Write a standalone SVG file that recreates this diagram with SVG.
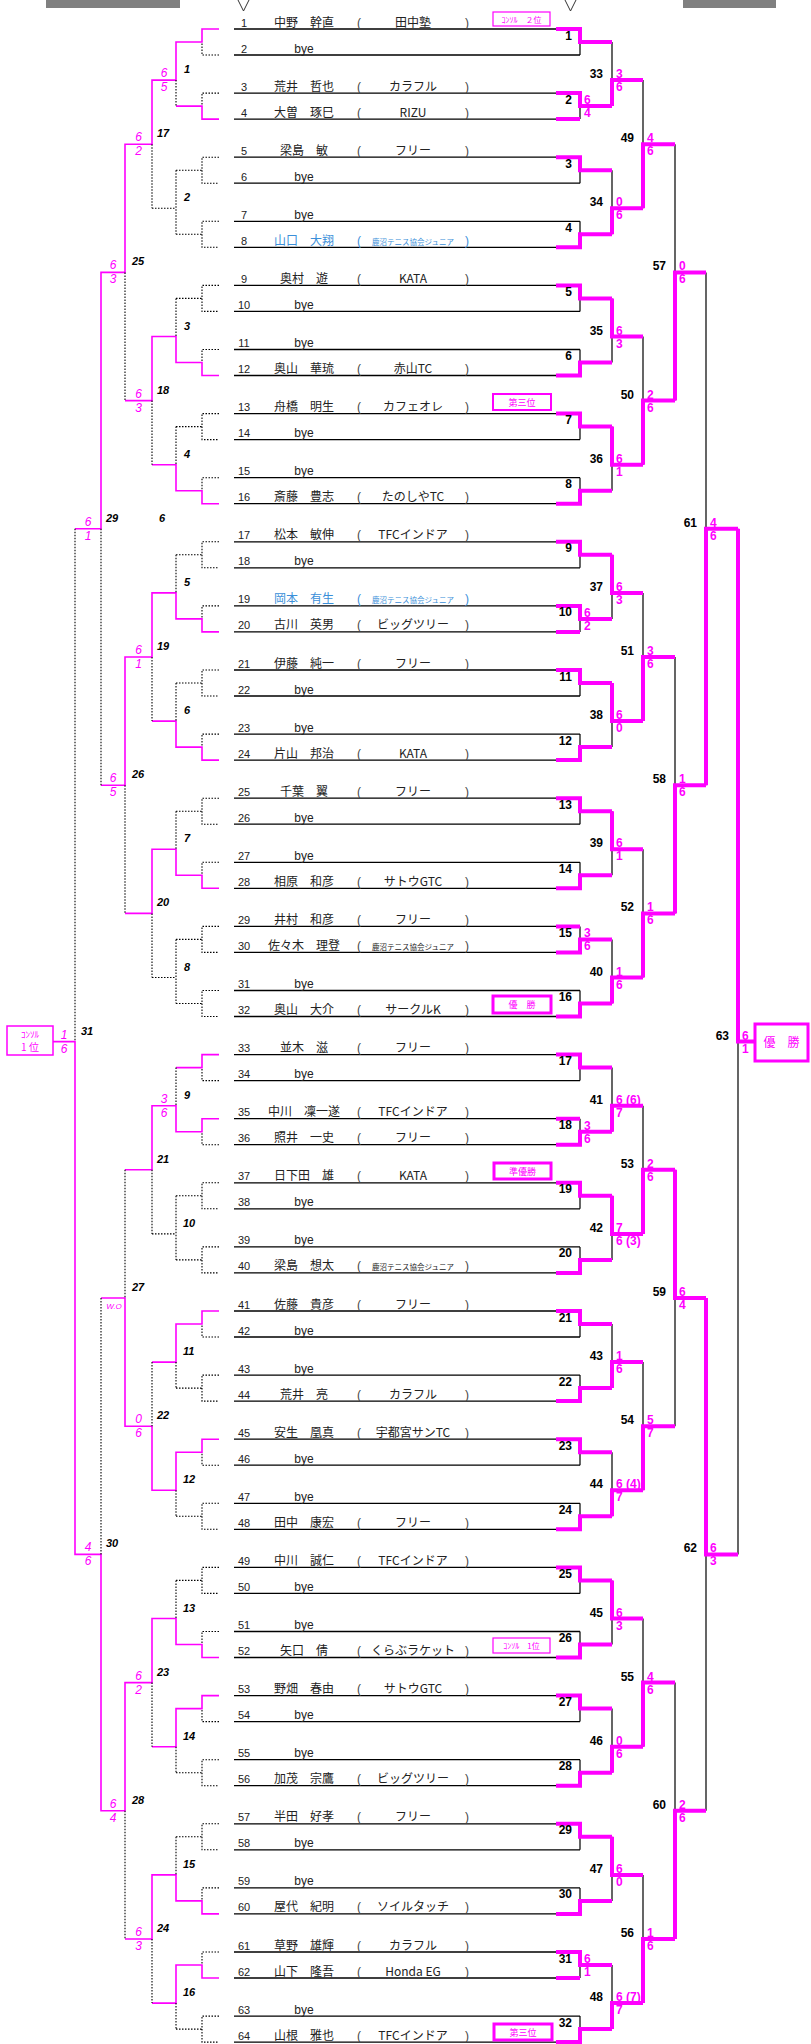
<svg xmlns="http://www.w3.org/2000/svg" width="811" height="2044" viewBox="0 0 811 2044">
<style>
.pl{stroke:#000;stroke-width:1.3;fill:none}
.bk{stroke:#000;stroke-width:1.2;fill:none}
.dt{stroke:#000;stroke-width:1.1;stroke-dasharray:1.5 1.5;fill:none}
.pk{stroke:#f0f;stroke-width:1.6;fill:none}
.tk{stroke:#f0f;stroke-width:4;fill:none;stroke-linejoin:miter}
text{font-family:"Liberation Sans",sans-serif}
.n{font-size:11px;fill:#222;text-anchor:middle}
.nm{font-family:"Noto Sans CJK JP",sans-serif;font-size:12px;fill:#222;text-anchor:middle}
.by{font-size:12px;fill:#222;text-anchor:middle}
.pr{font-size:12px;fill:#444}
.tm{font-family:"Noto Sans CJK JP",sans-serif;font-size:12px;fill:#222;text-anchor:middle}
.sm{font-size:7.5px}
.bl{fill:#3b8fd9}
.mr{font-family:"Liberation Sans Narrow","Liberation Sans",sans-serif;font-weight:bold;font-size:12px;text-anchor:end;fill:#000}
.ml{font-weight:bold;font-style:italic;font-size:11px;fill:#000}
.sr{font-family:"Liberation Sans Narrow","Liberation Sans",sans-serif;font-weight:bold;font-size:12px;fill:#f0f}
.sl{font-style:italic;font-size:12px;fill:#f0f;text-anchor:middle}
.bx{fill:none;stroke:#f0f}
.bt{font-family:"Noto Sans CJK JP",sans-serif;font-size:9px;fill:#f0f;text-anchor:middle}
</style>
<rect x="46" y="0" width="134" height="8" fill="#808080"/>
<rect x="683" y="0" width="93" height="8" fill="#808080"/>
<polyline points="238,0 243.5,11 249,0" fill="none" stroke="#333" stroke-width="1"/>
<polyline points="565,0 570.5,11 576,0" fill="none" stroke="#333" stroke-width="1"/>

<g id="connectors">
<path class="pl" d="M234,29H580M234,55H580M234,93.1H580M234,119.1H580M234,157.2H580M234,183.2H580M234,221.3H580M234,247.3H580M234,285.4H580M234,311.4H580M234,349.5H580M234,375.5H580M234,413.6H580M234,439.6H580M234,477.7H580M234,503.7H580M234,541.8H580M234,567.8H580M234,605.9H580M234,631.9H580M234,670H580M234,696H580M234,734.1H580M234,760.1H580M234,798.2H580M234,824.2H580M234,862.3H580M234,888.3H580M234,926.4H580M234,952.4H580M234,990.5H580M234,1016.5H580M234,1054.6H580M234,1080.6H580M234,1118.7H580M234,1144.7H580M234,1182.8H580M234,1208.8H580M234,1246.9H580M234,1272.9H580M234,1311H580M234,1337H580M234,1375.1H580M234,1401.1H580M234,1439.2H580M234,1465.2H580M234,1503.3H580M234,1529.3H580M234,1567.4H580M234,1593.4H580M234,1631.5H580M234,1657.5H580M234,1695.6H580M234,1721.6H580M234,1759.7H580M234,1785.7H580M234,1823.8H580M234,1849.8H580M234,1887.9H580M234,1913.9H580M234,1952H580M234,1978H580M234,2016.1H580M234,2042.1H580"/>
<path class="bk" d="M580,29V55M580,93.1V119.1M580,157.2V183.2M580,221.3V247.3M580,285.4V311.4M580,349.5V375.5M580,413.6V439.6M580,477.7V503.7M580,541.8V567.8M580,605.9V631.9M580,670V696M580,734.1V760.1M580,798.2V824.2M580,862.3V888.3M580,926.4V952.4M580,990.5V1016.5M580,1054.6V1080.6M580,1118.7V1144.7M580,1182.8V1208.8M580,1246.9V1272.9M580,1311V1337M580,1375.1V1401.1M580,1439.2V1465.2M580,1503.3V1529.3M580,1567.4V1593.4M580,1631.5V1657.5M580,1695.6V1721.6M580,1759.7V1785.7M580,1823.8V1849.8M580,1887.9V1913.9M580,1952V1978M580,2016.1V2042.1
M612,42V106.1M612,170.2V234.3M612,298.4V362.5M612,426.6V490.7M612,554.8V618.9M612,683V747.1M612,811.2V875.3M612,939.4V1003.5M612,1067.6V1131.7M612,1195.8V1259.9M612,1324V1388.1M612,1452.2V1516.3M612,1580.4V1644.5M612,1708.6V1772.7M612,1836.8V1900.9M612,1965V2029.1
M643,80.1V208.3M643,336.5V464.7M643,592.9V721.1M643,849.3V977.5M643,1105.7V1233.9M643,1362.1V1490.3M643,1618.5V1746.7M643,1874.9V2003.1
M675,144.2V400.6M675,657V913.4M675,1169.8V1426.2M675,1682.6V1939
M706,272.4V785.2M706,1298V1810.8
M738,528.8V1554.4"/>
<path class="tk" d="M556,29H580V42H612M556,93.1H580V106.1H612M556,119.1H580M556,157.2H580V170.2H612M556,247.3H580V234.3H612M556,285.4H580V298.4H612M556,375.5H580V362.5H612M556,413.6H580V426.6H612M556,503.7H580V490.7H612M556,541.8H580V554.8H612M556,605.9H580V618.9H612M556,631.9H580M556,670H580V683H612M556,760.1H580V747.1H612M556,798.2H580V811.2H612M556,888.3H580V875.3H612M556,952.4H580V939.4H612M556,926.4H580M556,1016.5H580V1003.5H612M556,1054.6H580V1067.6H612M556,1144.7H580V1131.7H612M556,1118.7H580M556,1182.8H580V1195.8H612M556,1272.9H580V1259.9H612M556,1311H580V1324H612M556,1401.1H580V1388.1H612M556,1439.2H580V1452.2H612M556,1529.3H580V1516.3H612M556,1567.4H580V1580.4H612M556,1657.5H580V1644.5H612M556,1695.6H580V1708.6H612M556,1785.7H580V1772.7H612M556,1823.8H580V1836.8H612M556,1913.9H580V1900.9H612M556,1952H580V1965H612M556,1978H580M556,2042.1H580V2029.1H612
M612,106.1V80.1H643M612,234.3V208.3H643M612,298.4V336.5H643M612,426.6V464.7H643M612,554.8V592.9H643M612,683V721.1H643M612,811.2V849.3H643M612,1003.5V977.5H643M612,1131.7V1105.7H643M612,1195.8V1233.9H643M612,1388.1V1362.1H643M612,1516.3V1490.3H643M612,1580.4V1618.5H643M612,1772.7V1746.7H643M612,1836.8V1874.9H643M612,2029.1V2003.1H643
M643,208.3V144.2H675M643,464.7V400.6H675M643,721.1V657H675M643,977.5V913.4H675M643,1233.9V1169.8H675M643,1490.3V1426.2H675M643,1746.7V1682.6H675M643,2003.1V1939H675
M675,400.6V272.4H706M675,913.4V785.2H706M675,1169.8V1298H706M675,1939V1810.8H706
M706,785.2V528.8H738M706,1298V1554.4H738
M738,528.8V1041.6H755"/>
<path class="pk" d="M219,29H202V42H176V80.1H152V144.2H125V272.4H101V528.8H75
M219,119.1H202V106.1H176
M219,375.5H202V362.5H176V336.5H152V400.6H125
M219,503.7H202V490.7H176V464.7H152
M219,631.9H202V618.9H176V592.9H152V657H125V785.2H101
M219,760.1H202V747.1H176V721.1H152
M219,888.3H202V875.3H176V849.3H152V913.4H125
M219,1054.6H202V1067.6H176
M219,1118.7H202V1131.7H176V1105.7H152V1169.8H125
M219,1311H202V1324H176V1362.1H152
M219,1439.2H202V1452.2H176V1490.3H152V1426.2H125V1298H101
M219,1657.5H202V1644.5H176V1618.5H152V1682.6H125V1810.8H101V1554.4H75V1041.6H53
M219,1695.6H202V1708.6H176V1746.7H152
M219,1913.9H202V1900.9H176V1874.9H152V1939H125
M219,1978H202V1965H176V2003.1H152"/>
<path class="dt" d="M219,55H202V42M219,93.1H202V106.1M219,157.2H202V183.2H219M176,170.2H202M219,221.3H202V247.3H219M176,234.3H202M219,285.4H202V311.4H219M176,298.4H202M219,349.5H202V362.5M219,413.6H202V439.6H219M176,426.6H202M219,477.7H202V490.7M219,541.8H202V567.8H219M176,554.8H202M219,605.9H202V618.9M219,670H202V696H219M176,683H202M219,734.1H202V747.1M219,798.2H202V824.2H219M176,811.2H202M219,862.3H202V875.3M219,926.4H202V952.4H219M176,939.4H202M219,990.5H202V1016.5H219M176,1003.5H202M219,1080.6H202V1067.6M219,1144.7H202V1131.7M219,1182.8H202V1208.8H219M176,1195.8H202M219,1246.9H202V1272.9H219M176,1259.9H202M219,1337H202V1324M219,1375.1H202V1401.1H219M176,1388.1H202M219,1465.2H202V1452.2M219,1503.3H202V1529.3H219M176,1516.3H202M219,1567.4H202V1593.4H219M176,1580.4H202M219,1631.5H202V1644.5M219,1721.6H202V1708.6M219,1759.7H202V1785.7H219M176,1772.7H202M219,1823.8H202V1849.8H219M176,1836.8H202M219,1887.9H202V1900.9M219,1952H202V1965M219,2016.1H202V2042.1H219M176,2029.1H202
M176,80.1V106.1M176,170.2V234.3M152,208.3H176M176,298.4V336.5M176,426.6V464.7M176,554.8V592.9M176,683V721.1M176,811.2V849.3M176,939.4V1003.5M152,977.5H176M176,1067.6V1105.7M176,1195.8V1259.9M152,1233.9H176M176,1362.1V1388.1M176,1490.3V1516.3M176,1580.4V1618.5M176,1746.7V1772.7M176,1836.8V1874.9M176,2003.1V2029.1
M152,144.2V208.3M152,400.6V464.7M152,657V721.1M152,913.4V977.5M152,1169.8V1233.9M152,1362.1V1426.2M152,1682.6V1746.7M152,1939V2003.1
M125,272.4V400.6M125,785.2V913.4M125,1169.8V1298M125,1810.8V1939
M101,528.8V785.2M101,1298V1554.4M75,528.8V1041.6"/>
</g>

<g id="players">
<g id="p1" transform="translate(0,26.5)"><text class="n" x="244">1</text><text class="nm" x="304">中野　幹直</text><text class="pr" x="357">(</text><text class="tm" x="413">田中塾</text><text class="pr" x="465">)</text></g>
<g id="p2" transform="translate(0,52.5)"><text class="n" x="244">2</text><text class="by" x="304">bye</text></g>
<g id="p3" transform="translate(0,90.6)"><text class="n" x="244">3</text><text class="nm" x="304">荒井　哲也</text><text class="pr" x="357">(</text><text class="tm" x="413">カラフル</text><text class="pr" x="465">)</text></g>
<g id="p4" transform="translate(0,116.6)"><text class="n" x="244">4</text><text class="nm" x="304">大曽　琢巳</text><text class="pr" x="357">(</text><text class="tm" x="413">RIZU</text><text class="pr" x="465">)</text></g>
<g id="p5" transform="translate(0,154.7)"><text class="n" x="244">5</text><text class="nm" x="304">梁島　敏</text><text class="pr" x="357">(</text><text class="tm" x="413">フリー</text><text class="pr" x="465">)</text></g>
<g id="p6" transform="translate(0,180.7)"><text class="n" x="244">6</text><text class="by" x="304">bye</text></g>
<g id="p7" transform="translate(0,218.8)"><text class="n" x="244">7</text><text class="by" x="304">bye</text></g>
<g id="p8" transform="translate(0,244.8)"><text class="n" x="244">8</text><text class="nm bl" x="304">山口　大翔</text><text class="pr bl" x="357">(</text><text class="tm sm bl" x="413">鹿沼テニス協会ジュニア</text><text class="pr bl" x="465">)</text></g>
<g id="p9" transform="translate(0,282.9)"><text class="n" x="244">9</text><text class="nm" x="304">奥村　遊</text><text class="pr" x="357">(</text><text class="tm" x="413">KATA</text><text class="pr" x="465">)</text></g>
<g id="p10" transform="translate(0,308.9)"><text class="n" x="244">10</text><text class="by" x="304">bye</text></g>
<g id="p11" transform="translate(0,347)"><text class="n" x="244">11</text><text class="by" x="304">bye</text></g>
<g id="p12" transform="translate(0,373)"><text class="n" x="244">12</text><text class="nm" x="304">奥山　華琉</text><text class="pr" x="357">(</text><text class="tm" x="413">赤山TC</text><text class="pr" x="465">)</text></g>
<g id="p13" transform="translate(0,411.1)"><text class="n" x="244">13</text><text class="nm" x="304">舟橋　明生</text><text class="pr" x="357">(</text><text class="tm" x="413">カフェオレ</text><text class="pr" x="465">)</text></g>
<g id="p14" transform="translate(0,437.1)"><text class="n" x="244">14</text><text class="by" x="304">bye</text></g>
<g id="p15" transform="translate(0,475.2)"><text class="n" x="244">15</text><text class="by" x="304">bye</text></g>
<g id="p16" transform="translate(0,501.2)"><text class="n" x="244">16</text><text class="nm" x="304">斎藤　豊志</text><text class="pr" x="357">(</text><text class="tm" x="413">たのしやTC</text><text class="pr" x="465">)</text></g>
<g id="p17" transform="translate(0,539.3)"><text class="n" x="244">17</text><text class="nm" x="304">松本　敏伸</text><text class="pr" x="357">(</text><text class="tm" x="413">TFCインドア</text><text class="pr" x="465">)</text></g>
<g id="p18" transform="translate(0,565.3)"><text class="n" x="244">18</text><text class="by" x="304">bye</text></g>
<g id="p19" transform="translate(0,603.4)"><text class="n" x="244">19</text><text class="nm bl" x="304">岡本　有生</text><text class="pr bl" x="357">(</text><text class="tm sm bl" x="413">鹿沼テニス協会ジュニア</text><text class="pr bl" x="465">)</text></g>
<g id="p20" transform="translate(0,629.4)"><text class="n" x="244">20</text><text class="nm" x="304">古川　英男</text><text class="pr" x="357">(</text><text class="tm" x="413">ビッグツリー</text><text class="pr" x="465">)</text></g>
<g id="p21" transform="translate(0,667.5)"><text class="n" x="244">21</text><text class="nm" x="304">伊藤　純一</text><text class="pr" x="357">(</text><text class="tm" x="413">フリー</text><text class="pr" x="465">)</text></g>
<g id="p22" transform="translate(0,693.5)"><text class="n" x="244">22</text><text class="by" x="304">bye</text></g>
<g id="p23" transform="translate(0,731.6)"><text class="n" x="244">23</text><text class="by" x="304">bye</text></g>
<g id="p24" transform="translate(0,757.6)"><text class="n" x="244">24</text><text class="nm" x="304">片山　邦治</text><text class="pr" x="357">(</text><text class="tm" x="413">KATA</text><text class="pr" x="465">)</text></g>
<g id="p25" transform="translate(0,795.7)"><text class="n" x="244">25</text><text class="nm" x="304">千葉　翼</text><text class="pr" x="357">(</text><text class="tm" x="413">フリー</text><text class="pr" x="465">)</text></g>
<g id="p26" transform="translate(0,821.7)"><text class="n" x="244">26</text><text class="by" x="304">bye</text></g>
<g id="p27" transform="translate(0,859.8)"><text class="n" x="244">27</text><text class="by" x="304">bye</text></g>
<g id="p28" transform="translate(0,885.8)"><text class="n" x="244">28</text><text class="nm" x="304">相原　和彦</text><text class="pr" x="357">(</text><text class="tm" x="413">サトウGTC</text><text class="pr" x="465">)</text></g>
<g id="p29" transform="translate(0,923.9)"><text class="n" x="244">29</text><text class="nm" x="304">井村　和彦</text><text class="pr" x="357">(</text><text class="tm" x="413">フリー</text><text class="pr" x="465">)</text></g>
<g id="p30" transform="translate(0,949.9)"><text class="n" x="244">30</text><text class="nm" x="304">佐々木　理登</text><text class="pr" x="357">(</text><text class="tm sm" x="413">鹿沼テニス協会ジュニア</text><text class="pr" x="465">)</text></g>
<g id="p31" transform="translate(0,988)"><text class="n" x="244">31</text><text class="by" x="304">bye</text></g>
<g id="p32" transform="translate(0,1014)"><text class="n" x="244">32</text><text class="nm" x="304">奥山　大介</text><text class="pr" x="357">(</text><text class="tm" x="413">サークルK</text><text class="pr" x="465">)</text></g>
<g id="p33" transform="translate(0,1052.1)"><text class="n" x="244">33</text><text class="nm" x="304">並木　滋</text><text class="pr" x="357">(</text><text class="tm" x="413">フリー</text><text class="pr" x="465">)</text></g>
<g id="p34" transform="translate(0,1078.1)"><text class="n" x="244">34</text><text class="by" x="304">bye</text></g>
<g id="p35" transform="translate(0,1116.2)"><text class="n" x="244">35</text><text class="nm" x="304">中川　凜一遂</text><text class="pr" x="357">(</text><text class="tm" x="413">TFCインドア</text><text class="pr" x="465">)</text></g>
<g id="p36" transform="translate(0,1142.2)"><text class="n" x="244">36</text><text class="nm" x="304">照井　一史</text><text class="pr" x="357">(</text><text class="tm" x="413">フリー</text><text class="pr" x="465">)</text></g>
<g id="p37" transform="translate(0,1180.3)"><text class="n" x="244">37</text><text class="nm" x="304">日下田　雄</text><text class="pr" x="357">(</text><text class="tm" x="413">KATA</text><text class="pr" x="465">)</text></g>
<g id="p38" transform="translate(0,1206.3)"><text class="n" x="244">38</text><text class="by" x="304">bye</text></g>
<g id="p39" transform="translate(0,1244.4)"><text class="n" x="244">39</text><text class="by" x="304">bye</text></g>
<g id="p40" transform="translate(0,1270.4)"><text class="n" x="244">40</text><text class="nm" x="304">梁島　想太</text><text class="pr" x="357">(</text><text class="tm sm" x="413">鹿沼テニス協会ジュニア</text><text class="pr" x="465">)</text></g>
<g id="p41" transform="translate(0,1308.5)"><text class="n" x="244">41</text><text class="nm" x="304">佐藤　貴彦</text><text class="pr" x="357">(</text><text class="tm" x="413">フリー</text><text class="pr" x="465">)</text></g>
<g id="p42" transform="translate(0,1334.5)"><text class="n" x="244">42</text><text class="by" x="304">bye</text></g>
<g id="p43" transform="translate(0,1372.6)"><text class="n" x="244">43</text><text class="by" x="304">bye</text></g>
<g id="p44" transform="translate(0,1398.6)"><text class="n" x="244">44</text><text class="nm" x="304">荒井　亮</text><text class="pr" x="357">(</text><text class="tm" x="413">カラフル</text><text class="pr" x="465">)</text></g>
<g id="p45" transform="translate(0,1436.7)"><text class="n" x="244">45</text><text class="nm" x="304">安生　凰真</text><text class="pr" x="357">(</text><text class="tm" x="413">宇都宮サンTC</text><text class="pr" x="465">)</text></g>
<g id="p46" transform="translate(0,1462.7)"><text class="n" x="244">46</text><text class="by" x="304">bye</text></g>
<g id="p47" transform="translate(0,1500.8)"><text class="n" x="244">47</text><text class="by" x="304">bye</text></g>
<g id="p48" transform="translate(0,1526.8)"><text class="n" x="244">48</text><text class="nm" x="304">田中　康宏</text><text class="pr" x="357">(</text><text class="tm" x="413">フリー</text><text class="pr" x="465">)</text></g>
<g id="p49" transform="translate(0,1564.9)"><text class="n" x="244">49</text><text class="nm" x="304">中川　誠仁</text><text class="pr" x="357">(</text><text class="tm" x="413">TFCインドア</text><text class="pr" x="465">)</text></g>
<g id="p50" transform="translate(0,1590.9)"><text class="n" x="244">50</text><text class="by" x="304">bye</text></g>
<g id="p51" transform="translate(0,1629)"><text class="n" x="244">51</text><text class="by" x="304">bye</text></g>
<g id="p52" transform="translate(0,1655)"><text class="n" x="244">52</text><text class="nm" x="304">矢口　倩</text><text class="pr" x="357">(</text><text class="tm" x="413">くらぶラケット</text><text class="pr" x="465">)</text></g>
<g id="p53" transform="translate(0,1693.1)"><text class="n" x="244">53</text><text class="nm" x="304">野畑　春由</text><text class="pr" x="357">(</text><text class="tm" x="413">サトウGTC</text><text class="pr" x="465">)</text></g>
<g id="p54" transform="translate(0,1719.1)"><text class="n" x="244">54</text><text class="by" x="304">bye</text></g>
<g id="p55" transform="translate(0,1757.2)"><text class="n" x="244">55</text><text class="by" x="304">bye</text></g>
<g id="p56" transform="translate(0,1783.2)"><text class="n" x="244">56</text><text class="nm" x="304">加茂　宗鷹</text><text class="pr" x="357">(</text><text class="tm" x="413">ビッグツリー</text><text class="pr" x="465">)</text></g>
<g id="p57" transform="translate(0,1821.3)"><text class="n" x="244">57</text><text class="nm" x="304">半田　好孝</text><text class="pr" x="357">(</text><text class="tm" x="413">フリー</text><text class="pr" x="465">)</text></g>
<g id="p58" transform="translate(0,1847.3)"><text class="n" x="244">58</text><text class="by" x="304">bye</text></g>
<g id="p59" transform="translate(0,1885.4)"><text class="n" x="244">59</text><text class="by" x="304">bye</text></g>
<g id="p60" transform="translate(0,1911.4)"><text class="n" x="244">60</text><text class="nm" x="304">屋代　紀明</text><text class="pr" x="357">(</text><text class="tm" x="413">ソイルタッチ</text><text class="pr" x="465">)</text></g>
<g id="p61" transform="translate(0,1949.5)"><text class="n" x="244">61</text><text class="nm" x="304">草野　雄輝</text><text class="pr" x="357">(</text><text class="tm" x="413">カラフル</text><text class="pr" x="465">)</text></g>
<g id="p62" transform="translate(0,1975.5)"><text class="n" x="244">62</text><text class="nm" x="304">山下　隆吾</text><text class="pr" x="357">(</text><text class="tm" x="413">Honda EG</text><text class="pr" x="465">)</text></g>
<g id="p63" transform="translate(0,2013.6)"><text class="n" x="244">63</text><text class="by" x="304">bye</text></g>
<g id="p64" transform="translate(0,2039.6)"><text class="n" x="244">64</text><text class="nm" x="304">山根　雅也</text><text class="pr" x="357">(</text><text class="tm" x="413">TFCインドア</text><text class="pr" x="465">)</text></g>
</g>

<g id="main-match-labels">
<text class="mr" x="572" y="39.5">1</text><text class="mr" x="572" y="103.6">2</text><text class="mr" x="572" y="167.7">3</text><text class="mr" x="572" y="231.8">4</text><text class="mr" x="572" y="295.9">5</text><text class="mr" x="572" y="360">6</text><text class="mr" x="572" y="424.1">7</text><text class="mr" x="572" y="488.2">8</text><text class="mr" x="572" y="552.3">9</text><text class="mr" x="572" y="616.4">10</text><text class="mr" x="572" y="680.5">11</text><text class="mr" x="572" y="744.6">12</text><text class="mr" x="572" y="808.7">13</text><text class="mr" x="572" y="872.8">14</text><text class="mr" x="572" y="936.9">15</text><text class="mr" x="572" y="1001">16</text><text class="mr" x="572" y="1065.1">17</text><text class="mr" x="572" y="1129.2">18</text><text class="mr" x="572" y="1193.3">19</text><text class="mr" x="572" y="1257.4">20</text><text class="mr" x="572" y="1321.5">21</text><text class="mr" x="572" y="1385.6">22</text><text class="mr" x="572" y="1449.7">23</text><text class="mr" x="572" y="1513.8">24</text><text class="mr" x="572" y="1577.9">25</text><text class="mr" x="572" y="1642">26</text><text class="mr" x="572" y="1706.1">27</text><text class="mr" x="572" y="1770.2">28</text><text class="mr" x="572" y="1834.3">29</text><text class="mr" x="572" y="1898.4">30</text><text class="mr" x="572" y="1962.5">31</text><text class="mr" x="572" y="2026.6">32</text>
<text class="mr" x="603" y="78.1">33</text><text class="mr" x="603" y="206.3">34</text><text class="mr" x="603" y="334.5">35</text><text class="mr" x="603" y="462.7">36</text><text class="mr" x="603" y="590.9">37</text><text class="mr" x="603" y="719.1">38</text><text class="mr" x="603" y="847.3">39</text><text class="mr" x="603" y="975.5">40</text><text class="mr" x="603" y="1103.7">41</text><text class="mr" x="603" y="1231.9">42</text><text class="mr" x="603" y="1360.1">43</text><text class="mr" x="603" y="1488.3">44</text><text class="mr" x="603" y="1616.5">45</text><text class="mr" x="603" y="1744.7">46</text><text class="mr" x="603" y="1872.9">47</text><text class="mr" x="603" y="2001.1">48</text>
<text class="mr" x="634" y="142.2">49</text><text class="mr" x="634" y="398.6">50</text><text class="mr" x="634" y="655">51</text><text class="mr" x="634" y="911.4">52</text><text class="mr" x="634" y="1167.8">53</text><text class="mr" x="634" y="1424.2">54</text><text class="mr" x="634" y="1680.6">55</text><text class="mr" x="634" y="1937">56</text>
<text class="mr" x="666" y="270.4">57</text><text class="mr" x="666" y="783.2">58</text><text class="mr" x="666" y="1296">59</text><text class="mr" x="666" y="1808.8">60</text>
<text class="mr" x="697" y="526.8">61</text><text class="mr" x="697" y="1552.4">62</text>
<text class="mr" x="729" y="1039.6">63</text>
</g>

<g id="main-scores">
<text class="sr" x="584" y="104.1">6</text><text class="sr" x="584" y="117.1">4</text>
<text class="sr" x="584" y="616.9">6</text><text class="sr" x="584" y="629.9">2</text>
<text class="sr" x="584" y="937.4">3</text><text class="sr" x="584" y="950.4">6</text>
<text class="sr" x="584" y="1129.7">3</text><text class="sr" x="584" y="1142.7">6</text>
<text class="sr" x="584" y="1963">6</text><text class="sr" x="584" y="1976">1</text>
<text class="sr" x="616" y="78.1">3</text><text class="sr" x="616" y="91.1">6</text>
<text class="sr" x="616" y="206.3">0</text><text class="sr" x="616" y="219.3">6</text>
<text class="sr" x="616" y="334.5">6</text><text class="sr" x="616" y="347.5">3</text>
<text class="sr" x="616" y="462.7">6</text><text class="sr" x="616" y="475.7">1</text>
<text class="sr" x="616" y="590.9">6</text><text class="sr" x="616" y="603.9">3</text>
<text class="sr" x="616" y="719.1">6</text><text class="sr" x="616" y="732.1">0</text>
<text class="sr" x="616" y="847.3">6</text><text class="sr" x="616" y="860.3">1</text>
<text class="sr" x="616" y="975.5">1</text><text class="sr" x="616" y="988.5">6</text>
<text class="sr" x="616" y="1103.7">6 (6)</text><text class="sr" x="616" y="1116.7">7</text>
<text class="sr" x="616" y="1231.9">7</text><text class="sr" x="616" y="1244.9">6 (3)</text>
<text class="sr" x="616" y="1360.1">1</text><text class="sr" x="616" y="1373.1">6</text>
<text class="sr" x="616" y="1488.3">6 (4)</text><text class="sr" x="616" y="1501.3">7</text>
<text class="sr" x="616" y="1616.5">6</text><text class="sr" x="616" y="1629.5">3</text>
<text class="sr" x="616" y="1744.7">0</text><text class="sr" x="616" y="1757.7">6</text>
<text class="sr" x="616" y="1872.9">6</text><text class="sr" x="616" y="1885.9">0</text>
<text class="sr" x="616" y="2001.1">6 (7)</text><text class="sr" x="616" y="2014.1">7</text>
<text class="sr" x="647" y="142.2">4</text><text class="sr" x="647" y="155.2">6</text>
<text class="sr" x="647" y="398.6">2</text><text class="sr" x="647" y="411.6">6</text>
<text class="sr" x="647" y="655">3</text><text class="sr" x="647" y="668">6</text>
<text class="sr" x="647" y="911.4">1</text><text class="sr" x="647" y="924.4">6</text>
<text class="sr" x="647" y="1167.8">2</text><text class="sr" x="647" y="1180.8">6</text>
<text class="sr" x="647" y="1424.2">5</text><text class="sr" x="647" y="1437.2">7</text>
<text class="sr" x="647" y="1680.6">4</text><text class="sr" x="647" y="1693.6">6</text>
<text class="sr" x="647" y="1937">1</text><text class="sr" x="647" y="1950">6</text>
<text class="sr" x="679" y="270.4">0</text><text class="sr" x="679" y="283.4">6</text>
<text class="sr" x="679" y="783.2">1</text><text class="sr" x="679" y="796.2">6</text>
<text class="sr" x="679" y="1296">6</text><text class="sr" x="679" y="1309">4</text>
<text class="sr" x="679" y="1808.8">2</text><text class="sr" x="679" y="1821.8">6</text>
<text class="sr" x="710" y="526.8">4</text><text class="sr" x="710" y="539.8">6</text>
<text class="sr" x="710" y="1552.4">6</text><text class="sr" x="710" y="1565.4">3</text>
<text class="sr" x="742" y="1039.6">6</text><text class="sr" x="742" y="1052.6">1</text>
</g>

<g id="consolation-labels">
<text class="ml" x="184" y="73.1">1</text><text class="ml" x="184" y="201.3">2</text><text class="ml" x="184" y="329.5">3</text><text class="ml" x="184" y="457.7">4</text><text class="ml" x="184" y="585.9">5</text><text class="ml" x="184" y="714.1">6</text><text class="ml" x="184" y="842.3">7</text><text class="ml" x="184" y="970.5">8</text><text class="ml" x="184" y="1098.7">9</text><text class="ml" x="183" y="1226.9">10</text><text class="ml" x="183" y="1355.1">11</text><text class="ml" x="183" y="1483.3">12</text><text class="ml" x="183" y="1611.5">13</text><text class="ml" x="183" y="1739.7">14</text><text class="ml" x="183" y="1867.9">15</text><text class="ml" x="183" y="1996.1">16</text>
<text class="ml" x="157" y="137.2">17</text><text class="ml" x="157" y="393.6">18</text><text class="ml" x="157" y="650">19</text><text class="ml" x="157" y="906.4">20</text><text class="ml" x="157" y="1162.8">21</text><text class="ml" x="157" y="1419.2">22</text><text class="ml" x="157" y="1675.6">23</text><text class="ml" x="157" y="1932">24</text>
<text class="ml" x="132" y="265.4">25</text><text class="ml" x="132" y="778.2">26</text><text class="ml" x="132" y="1291">27</text><text class="ml" x="132" y="1803.8">28</text>
<text class="ml" x="106" y="521.8">29</text><text class="ml" x="106" y="1547.4">30</text>
<text class="ml" x="81" y="1034.6">31</text>
<text class="ml" x="159" y="522">6</text>
</g>

<g id="consolation-scores">
<text class="sl" x="164" y="77.1">6</text><text class="sl" x="164" y="91.1">5</text>
<text class="sl" x="164" y="1102.7">3</text><text class="sl" x="164" y="1116.7">6</text>
<text class="sl" x="138.5" y="141.2">6</text><text class="sl" x="138.5" y="155.2">2</text>
<text class="sl" x="138.5" y="397.6">6</text><text class="sl" x="138.5" y="411.6">3</text>
<text class="sl" x="138.5" y="654">6</text><text class="sl" x="138.5" y="668">1</text>
<text class="sl" x="138.5" y="1423.2">0</text><text class="sl" x="138.5" y="1437.2">6</text>
<text class="sl" x="138.5" y="1679.6">6</text><text class="sl" x="138.5" y="1693.6">2</text>
<text class="sl" x="138.5" y="1936">6</text><text class="sl" x="138.5" y="1950">3</text>
<text class="sl" x="113" y="269.4">6</text><text class="sl" x="113" y="283.4">3</text>
<text class="sl" x="113" y="782.2">6</text><text class="sl" x="113" y="796.2">5</text>
<text class="sl" x="114" y="1309" style="font-size:8px">W.O</text>
<text class="sl" x="113" y="1807.8">6</text><text class="sl" x="113" y="1821.8">4</text>
<text class="sl" x="88" y="525.8">6</text><text class="sl" x="88" y="539.8">1</text>
<text class="sl" x="88" y="1551.4">4</text><text class="sl" x="88" y="1565.4">6</text>
<text class="sl" x="64" y="1038.6">1</text><text class="sl" x="64" y="1052.6">6</text>
</g>

<g id="badge-cons1">
<rect class="bx" x="7" y="1026" width="46" height="29" stroke-width="1.5"/>
<text class="bt" x="30" y="1038">ｺﾝｿﾙ</text><text class="bt" x="30" y="1051" style="font-size:10px">1 位</text>
</g>
<g id="badge-champion">
<rect class="bx" x="755" y="1024" width="53" height="37" stroke-width="3"/>
<text class="bt" x="781.5" y="1047" style="font-size:12px">優　勝</text>
</g>
<g id="badge-p1"><rect class="bx" x="493" y="12" width="57" height="14" stroke-width="1.2"/><text class="bt" x="521.5" y="22.5" style="font-size:8px">ｺﾝｿﾙ　２位</text></g>
<g id="badge-p13"><rect class="bx" x="493" y="394" width="58" height="16" stroke-width="2"/><text class="bt" x="522" y="405.5">第三位</text></g>
<g id="badge-p32"><rect class="bx" x="493" y="996" width="58" height="17" stroke-width="3"/><text class="bt" x="522" y="1008">優　勝</text></g>
<g id="badge-p37"><rect class="bx" x="494" y="1163" width="57" height="16" stroke-width="3"/><text class="bt" x="522.5" y="1174.5">準優勝</text></g>
<g id="badge-p52"><rect class="bx" x="493" y="1638" width="57" height="15" stroke-width="1.2"/><text class="bt" x="521.5" y="1648.5" style="font-size:8px">ｺﾝｿﾙ　1位</text></g>
<g id="badge-p64"><rect class="bx" x="494" y="2024" width="58" height="16" stroke-width="3"/><text class="bt" x="523" y="2035.5">第三位</text></g>
</svg>
